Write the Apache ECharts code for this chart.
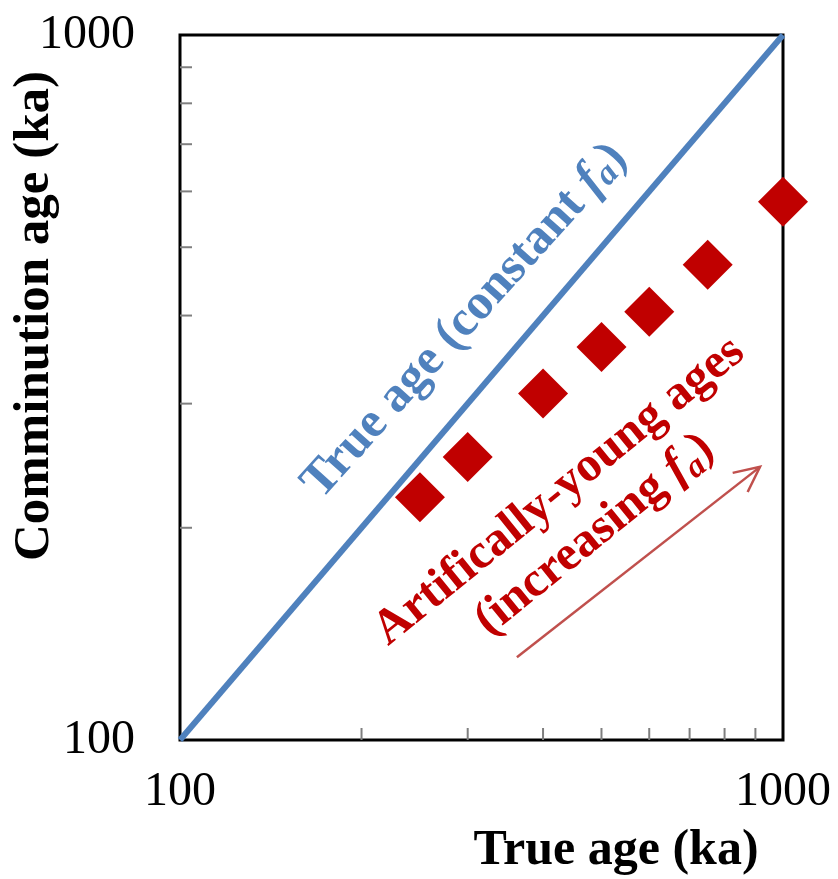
<!DOCTYPE html>
<html>
<head>
<meta charset="utf-8">
<script src="https://cdn.jsdelivr.net/npm/echarts@6/dist/echarts.min.js"></script>
<style>
  html, body { margin: 0; padding: 0; background: #fff; }
  #main { width: 838px; height: 879px; }
</style>
</head>
<body>
<div id="main"></div>
<script>
// data
const trueAge = [250, 300, 400, 500, 600, 750, 1000];
const comminutionAge = [221, 252, 310, 361, 405, 472, 580];
const oneToOne = [100, 1000];
const minorTicks = [200, 300, 400, 500, 600, 700, 800, 900];
// arrow start / end in data units
const arrowFrom = [362, 131];
const arrowTo = [916, 244];

const serif = '"Liberation Serif", "Times New Roman", serif';
const blue = '#4f81bd';
const red = '#c00000';

const chart = echarts.init(document.getElementById('main'));

const option = {
  animation: false,
  grid: {
    left: 180, right: 55, top: 35, bottom: 139,
    show: true, borderColor: '#000', borderWidth: 3
  },
  xAxis: {
    type: 'log', logBase: 10, min: 100, max: 1000,
    axisLine: { show: false },
    axisTick: { show: false },
    splitLine: { show: false },
    axisLabel: { fontSize: 48, fontFamily: serif, color: '#000', margin: 28, formatter: v => String(v) }
  },
  yAxis: {
    type: 'log', logBase: 10, min: 100, max: 1000,
    axisLine: { show: false },
    axisTick: { show: false },
    splitLine: { show: false },
    axisLabel: { fontSize: 48, fontFamily: serif, color: '#000', margin: 45, formatter: v => String(v) }
  },
  series: [
    {
      // minor ticks on x axis
      type: 'scatter', silent: true, clip: false,
      data: minorTicks.map(v => [v, 100]),
      symbol: 'rect', symbolSize: [2, 12], symbolOffset: [0, -6],
      itemStyle: { color: '#7f7f7f', opacity: 1 }, z: 1
    },
    {
      // minor ticks on y axis
      type: 'scatter', silent: true, clip: false,
      data: minorTicks.map(v => [100, v]),
      symbol: 'rect', symbolSize: [12, 2], symbolOffset: [6, 0],
      itemStyle: { color: '#7f7f7f', opacity: 1 }, z: 1
    },
    {
      type: 'line', silent: true,
      data: oneToOne.map(v => [v, v]),
      showSymbol: false,
      lineStyle: { color: blue, width: 6 },
      z: 3
    },
    {
      type: 'scatter', clip: false,
      data: trueAge.map((v, i) => [v, comminutionAge[i]]),
      symbol: 'diamond', symbolSize: 50,
      itemStyle: { color: red, opacity: 1 },
      emphasis: { disabled: true },
      z: 4
    }
  ]
};
chart.setOption(option);

// annotations
const p0 = chart.convertToPixel({ gridIndex: 0 }, arrowFrom);
const p1 = chart.convertToPixel({ gridIndex: 0 }, arrowTo);
const ang = Math.atan2(p1[1] - p0[1], p1[0] - p0[0]);
const headLen = 28, headAng = Math.PI / 7;
const h1 = [p1[0] - headLen * Math.cos(ang - headAng), p1[1] - headLen * Math.sin(ang - headAng)];
const h2 = [p1[0] - headLen * Math.cos(ang + headAng), p1[1] - headLen * Math.sin(ang + headAng)];

function subRich(size) {
  return {
    i: { fontStyle: 'italic', fontFamily: serif, fontSize: size, fontWeight: 'bold' },
    s: { fontStyle: 'italic', fontFamily: serif, fontSize: Math.round(size * 0.68), fontWeight: 'bold', verticalAlign: 'bottom', padding: [14, 0, 0, 0] }
  };
}

chart.setOption({
  graphic: [
    {
      type: 'text', x: 616, y: 851,
      style: { text: 'True age (ka)', fontSize: 50, fontWeight: 'bold', fontFamily: serif, fill: '#000', align: 'center', verticalAlign: 'middle' }
    },
    {
      type: 'text', x: 35, y: 316, rotation: Math.PI / 2,
      style: { text: 'Comminution age (ka)', fontSize: 51, fontWeight: 'bold', fontFamily: serif, fill: '#000', align: 'center', verticalAlign: 'middle' }
    },
    {
      type: 'text', x: 465, y: 321, rotation: 48 * Math.PI / 180,
      style: {
        text: 'True age (constant {i|f}{s|a})',
        fontSize: 50, fontWeight: 'bold', fontFamily: serif, fill: blue,
        align: 'center', verticalAlign: 'middle',
        rich: subRich(50)
      }
    },
    {
      type: 'text', x: 577, y: 513, rotation: 39 * Math.PI / 180,
      style: {
        text: 'Artifically-young ages\n(increasing {i|f}{s|a})',
        fontSize: 49, fontWeight: 'bold', fontFamily: serif, fill: red,
        align: 'center', verticalAlign: 'middle', lineHeight: 56,
        rich: subRich(49)
      }
    },
    {
      type: 'line', silent: true,
      shape: { x1: p0[0], y1: p0[1], x2: p1[0], y2: p1[1] },
      style: { stroke: '#c0504d', lineWidth: 2.5 }
    },
    {
      type: 'polyline', silent: true,
      shape: { points: [h1, p1, h2] },
      style: { stroke: '#c0504d', lineWidth: 2.5, fill: null }
    }
  ]
});
</script>
</body>
</html>
